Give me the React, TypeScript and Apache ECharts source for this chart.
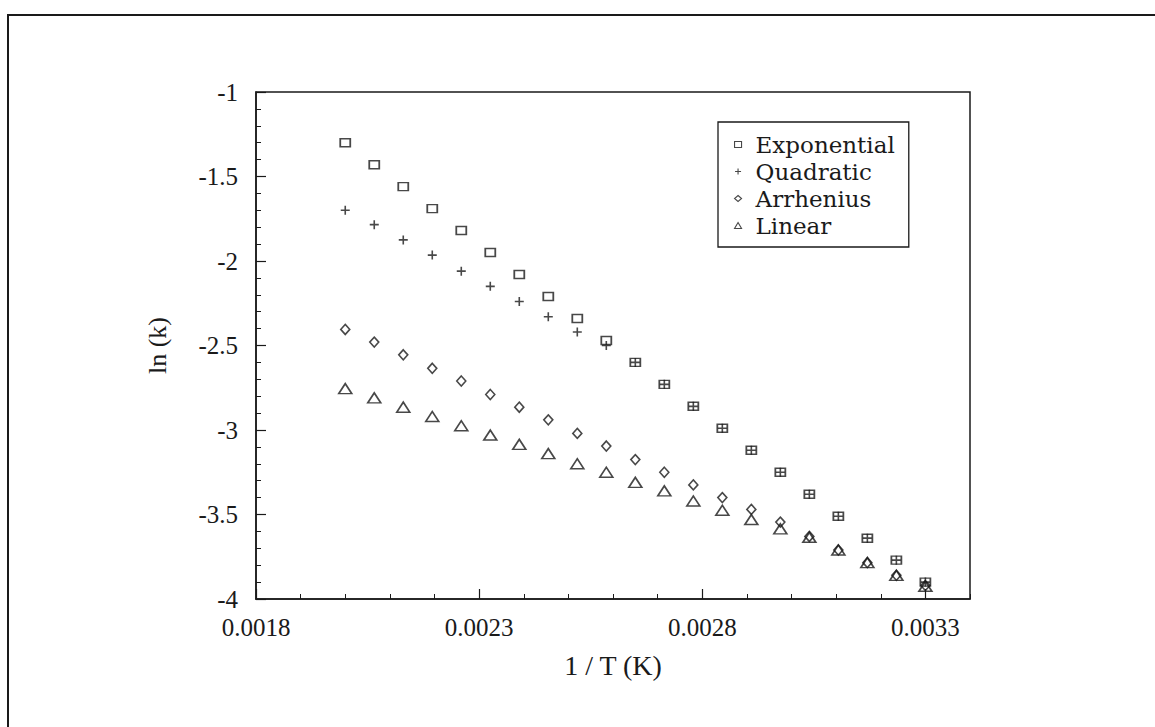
import React, { useEffect, useRef } from "react";
import * as echarts from "echarts";

const invT = [
  0.002, 0.002065, 0.00213, 0.002195, 0.00226, 0.002325, 0.00239, 0.002455, 0.00252, 0.002585,
  0.00265, 0.002715, 0.00278, 0.002845, 0.00291, 0.002975, 0.00304, 0.003105, 0.00317, 0.003235, 0.0033,
];
const exponential = [
  -1.3, -1.43, -1.56, -1.69, -1.82, -1.95, -2.08, -2.21, -2.34, -2.47,
  -2.6, -2.73, -2.86, -2.99, -3.12, -3.25, -3.38, -3.51, -3.64, -3.77, -3.9,
];
const quadratic = [
  -1.7, -1.785, -1.875, -1.965, -2.06, -2.15, -2.24, -2.33, -2.42, -2.5,
  -2.6, -2.73, -2.86, -2.99, -3.12, -3.25, -3.38, -3.51, -3.64, -3.77, -3.9,
];
const arrhenius = [
  -2.405, -2.48, -2.555, -2.635, -2.71, -2.79, -2.865, -2.94, -3.02, -3.095,
  -3.175, -3.25, -3.325, -3.4, -3.47, -3.545, -3.63, -3.71, -3.785, -3.86, -3.92,
];
const linear = [
  -2.755, -2.81, -2.865, -2.92, -2.975, -3.03, -3.085, -3.14, -3.2, -3.25,
  -3.31, -3.36, -3.42, -3.475, -3.53, -3.585, -3.635, -3.71, -3.785, -3.86, -3.925,
];
const seriesNames = ["Exponential", "Quadratic", "Arrhenius", "Linear"];

const PLUS = "path://M0,5L10,5M5,0L5,10";
const INK = "#1a1a1a";
const SERIF = "Liberation Serif";

export default function App() {
  const ref = useRef<HTMLDivElement>(null);
  useEffect(() => {
    document.body.style.margin = "0";
    const chart = echarts.init(ref.current!, null, { renderer: "svg" });
    const pts = (ys: number[]) => invT.map((x, i) => [x, ys[i]]);
    const hollow = { color: "rgba(0,0,0,0)", borderColor: INK, borderWidth: 1.6 };
    const mk = (name: string, ys: number[], symbol: string, size: number[]) => ({
      name,
      type: "scatter",
      data: pts(ys),
      symbol,
      symbolSize: size,
      itemStyle: hollow,
      emphasis: { disabled: true },
    });
    const legendItem = { color: "rgba(0,0,0,0)", borderColor: INK, borderWidth: 1.1 };
    chart.setOption({
      animation: false,
      backgroundColor: "#fff",
      graphic: [
        {
          type: "rect",
          shape: { x: 8, y: 15, width: 1400, height: 1000 },
          style: { fill: "none", stroke: INK, lineWidth: 2 },
          silent: true,
          z: -1,
        },
      ],
      grid: {
        left: 256,
        right: 185,
        top: 92,
        bottom: 128,
        show: true,
        borderColor: INK,
        borderWidth: 1.5,
        backgroundColor: "transparent",
      },
      legend: {
        orient: "vertical",
        left: 718,
        top: 122,
        borderColor: INK,
        borderWidth: 1.3,
        padding: [9, 14, 8, 16],
        itemGap: 0,
        itemWidth: 7,
        itemHeight: 6,
        selectedMode: false,
        textStyle: {
          fontFamily: "DejaVu Serif",
          fontSize: 23,
          lineHeight: 27,
          color: INK,
          padding: [0, 0, 0, 9],
        },
        data: [
          { name: seriesNames[0], icon: "rect", itemStyle: legendItem },
          { name: seriesNames[1], icon: PLUS, itemStyle: legendItem },
          { name: seriesNames[2], icon: "diamond", itemStyle: legendItem },
          { name: seriesNames[3], icon: "triangle", itemStyle: legendItem },
        ],
      },
      xAxis: [
        {
          type: "value",
          position: "bottom",
          min: 0.0018,
          max: 0.0034,
          interval: 0.0001,
          axisLine: { show: true, lineStyle: { color: INK, width: 1.5 } },
          axisTick: { show: true, inside: true, length: 5, lineStyle: { color: INK, width: 1 } },
          axisLabel: { show: false },
          splitLine: { show: false },
        },
        {
          type: "value",
          position: "bottom",
          min: 0.0018,
          max: 0.0034,
          interval: 0.0005,
          axisLine: { show: false },
          axisTick: { show: true, inside: true, length: 10, lineStyle: { color: INK, width: 1.2 } },
          axisLabel: {
            show: true,
            showMaxLabel: false,
            formatter: (v: number) => v.toFixed(4),
            fontFamily: SERIF,
            fontSize: 25,
            color: INK,
            margin: 16,
          },
          splitLine: { show: false },
          name: "1 / T (K)",
          nameLocation: "middle",
          nameGap: 52,
          nameTextStyle: { fontFamily: SERIF, fontSize: 28, color: INK },
        },
      ],
      yAxis: {
        type: "value",
        min: -4,
        max: -1,
        interval: 0.5,
        axisLine: { show: true, lineStyle: { color: INK, width: 1.5 } },
        axisTick: { show: true, inside: true, length: 10, lineStyle: { color: INK, width: 1.2 } },
        minorTick: { show: true, splitNumber: 5, length: 5, lineStyle: { color: INK, width: 1 } },
        axisLabel: { fontFamily: SERIF, fontSize: 25, color: INK, margin: 18 },
        splitLine: { show: false },
        name: "ln (k)",
        nameLocation: "middle",
        nameRotate: 90,
        nameGap: 86,
        nameTextStyle: { fontFamily: SERIF, fontSize: 26, color: INK },
      },
      series: [
        mk(seriesNames[0], exponential, "rect", [10, 8]),
        mk(seriesNames[1], quadratic, PLUS, [9, 9]),
        mk(seriesNames[2], arrhenius, "diamond", [9, 10]),
        mk(seriesNames[3], linear, "triangle", [13, 10]),
      ],
    });
    return () => chart.dispose();
  }, []);
  return <div ref={ref} style={{ width: 1155, height: 727 }} />;
}
